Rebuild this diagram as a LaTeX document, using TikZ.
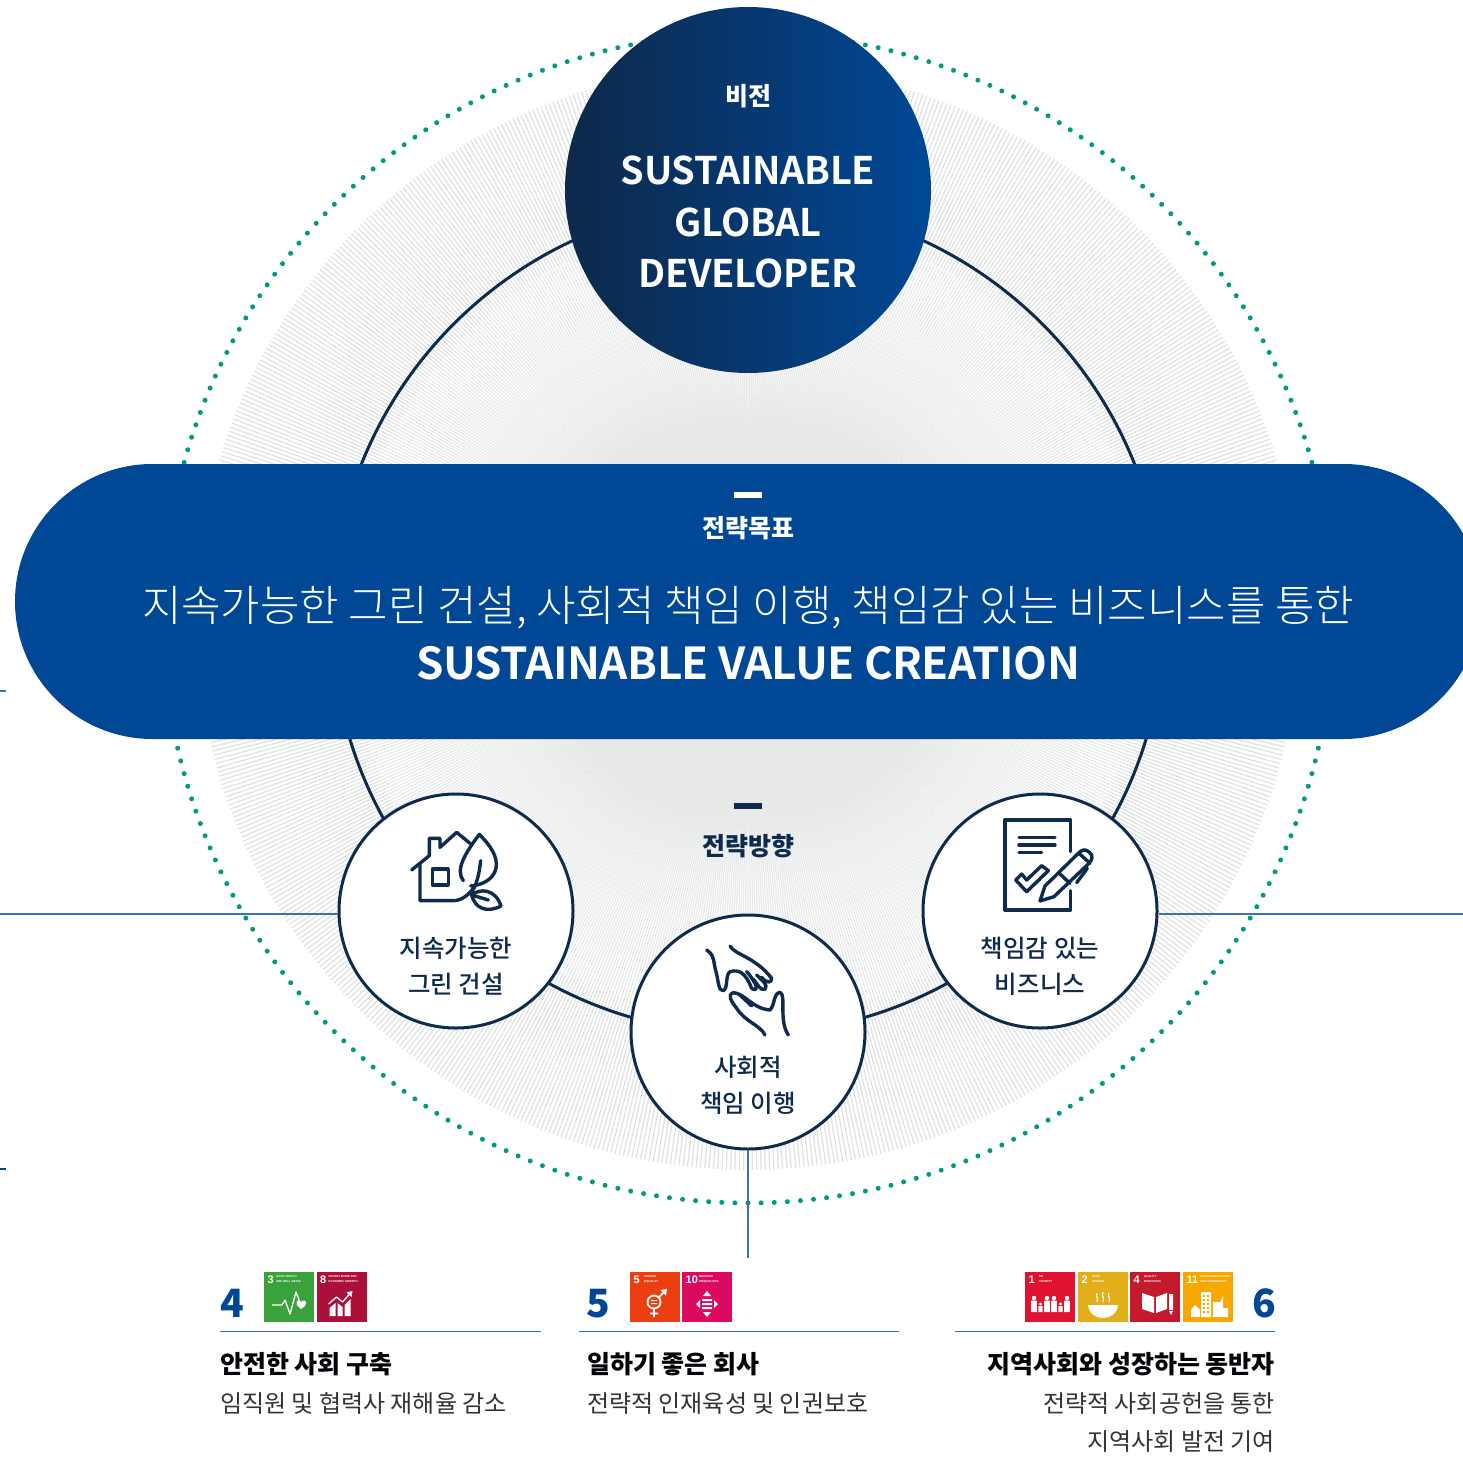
\documentclass[tikz,border=0pt]{standalone}
\usepackage{fontspec}
\setmainfont{Noto Sans CJK KR}
\newfontfamily\krlight{Noto Sans CJK KR Light}
\newfontfamily\krmed{Noto Sans CJK KR Medium}
\newfontfamily\tightb{Noto Sans CJK KR Bold}[LetterSpace=-0.8]
\newfontfamily\tightc{Noto Sans CJK KR Bold}[LetterSpace=-1.2]
\newfontfamily\tinyf{Liberation Sans}
\definecolor{navy}{HTML}{0E2A4D}
\definecolor{pillblue}{HTML}{004896}
\definecolor{rule}{HTML}{4272AE}
\definecolor{dotgreen}{HTML}{009A82}
\definecolor{hatch}{HTML}{E1E2E2}
\definecolor{hatchin}{HTML}{E8E9E9}
\definecolor{sA}{HTML}{3AA23A}
\definecolor{sB}{HTML}{AB1038}
\definecolor{sC}{HTML}{EB3F12}
\definecolor{sD}{HTML}{DB0A60}
\definecolor{sE}{HTML}{E0122F}
\definecolor{sF}{HTML}{E2AE1A}
\definecolor{sG}{HTML}{C5192D}
\definecolor{sH}{HTML}{F8A600}
\newcommand{\fs}[1]{\fontsize{#1}{#1}\selectfont}
\newcommand{\tile}[6]{%
  \node[tilebox,fill=#2] (#6) at (#1,1272) {};
  \node[tilenum] (#6n) at (#1+3.5,1275.5) {#3};
  \node[tiletxt] (#6t) at (#1+#4,1275) {#5};
}
\tikzset{
  bigtxt/.style={font=\tightb\fs{38},text=white,inner sep=0pt},
  small/.style={circle,draw=navy,line width=3pt,fill=white,minimum size=234pt,inner sep=0pt},
  ctext/.style={font=\krmed\fs{24.5},text=navy,inner sep=0pt},
  head/.style={font=\bfseries\fs{25},text=black!90!navy,inner sep=0pt},
  body/.style={font=\fs{24},text=black!80,inner sep=0pt},
  numb/.style={font=\bfseries\fs{39},text=pillblue,inner sep=0pt},
  conn/.style={draw=rule,line width=1.2pt},
  tilebox/.style={anchor=north west,minimum size=50pt,inner sep=0pt,outer sep=0pt},
  tilenum/.style={anchor=north west,font=\tinyf\bfseries\fs{11},text=white,inner sep=0pt},
  tiletxt/.style={anchor=north west,align=left,font=\tinyf\bfseries\fontsize{2.8}{5.6}\selectfont,text=white,inner sep=0pt},
  ico/.style={draw=navy,line width=3.4pt,line cap=round,line join=round},
  tl/.style={draw=white,line width=1.3pt,line join=round},
  tf/.style={fill=white},
}
\begin{document}
\begin{tikzpicture}[x=1pt,y=-1pt]
\useasboundingbox (0,0) rectangle (1463,1458);
\clip (0,0) rectangle (1463,1458);
% hatch disc
\draw[hatch,line width=1.3pt] foreach \a in {0,0.45,...,359.9} {(748+400*cos \a,618+400*sin \a) -- (748+552*cos \a,618+552*sin \a)};
\draw[hatchin,line width=1.3pt] foreach \a in {0,0.45,...,359.9} {(748+100*cos \a,618+100*sin \a) -- (748+400*cos \a,618+400*sin \a)};
% dotted ring
\fill[dotgreen] foreach \a in {0,1.2857,...,359.9} {(748+585*cos \a,618+585*sin \a) circle (2.5pt)};
% inner ring
\node[circle,draw=navy,line width=3pt,minimum size=832pt,inner sep=0pt] (ring) at (748,618) {};
% connectors
\coordinate (le) at (0,914);
\coordinate (re) at (1463,914);
\coordinate (be) at (748,1258);
\node[small] (cl) at (456,911) {};
\node[small] (cr) at (1040,911) {};
\node[small] (cm) at (748,1032) {};
\draw[conn] (le) -- (cl.west |- le);
\draw[conn] (cr.east |- re) -- (re);
\draw[conn] (cm.south) -- (be);
\coordinate (s1a) at (0,691); \coordinate (s1b) at (6,691);
\coordinate (s2a) at (0,1169); \coordinate (s2b) at (6,1169);
\draw[conn] (s1a) -- (s1b);
\draw[conn,draw=pillblue] (s2a) -- (s2b);
% vision circle
\node[circle,minimum size=366pt,inner sep=0pt,left color=navy!95!black,middle color=black!25!pillblue,right color=pillblue] (vis) at (748,190) {};
\node[font=\bfseries\fs{25},text=white,inner sep=0pt] (vt) at (748,96) {비전};
\node[bigtxt] (v1) at (748,170) {SUSTAINABLE};
\node[bigtxt] (v2) at (748,222) {GLOBAL};
\node[bigtxt] (v3) at (748,273) {DEVELOPER};
% pill
\node[rectangle,rounded corners=137.5pt,fill=pillblue,minimum width=1466pt,minimum height=275pt,inner sep=0pt] (pill) at (748,601.5) {};
\node[fill=white,minimum width=28pt,minimum height=6pt,inner sep=0pt] (d1) at (748,494.5) {};
\node[font=\bfseries\fs{25},text=white,inner sep=0pt] (p1) at (748,528) {전략목표};
\node[font=\krlight\fs{42.9},text=white,inner sep=0pt] (p2) at (748,608) {지속가능한 그린 건설, 사회적 책임 이행, 책임감 있는 비즈니스를 통한};
\node[font=\tightc\fs{44},text=white,inner sep=0pt] (p3) at (748,663) {SUSTAINABLE VALUE CREATION};
% direction
\node[fill=navy,minimum width=28pt,minimum height=6pt,inner sep=0pt] (d2) at (748,806) {};
\node[font=\bfseries\fs{25},text=navy,inner sep=0pt] (dt) at (748,846) {전략방향};
% circle labels
\node[ctext] (l1) at (456,948) {지속가능한};
\node[ctext] (l2) at (456,984) {그린 건설};
\node[ctext] (r1) at (1040,948) {책임감 있는};
\node[ctext] (r2) at (1040,984) {비즈니스};
\node[ctext] (m1) at (748,1067) {사회적};
\node[ctext] (m2) at (748,1103) {책임 이행};
% house icon
\begin{scope}[shift={(340,790)},x=0.3333pt,y=-0.3333pt]
\draw[ico] (215,240) -- (268,197) -- (268,145) -- (300,145) -- (300,172) -- (350,127) -- (390,160);
\draw[ico] (240,222) -- (240,332) -- (340,332) .. controls (365,332) and (385,315) .. (400,295);
\draw[ico] (277,237) rectangle (325,285);
\draw[ico] (370,272) .. controls (345,240) and (375,190) .. (418,133) .. controls (450,165) and (475,200) .. (468,235) .. controls (460,270) and (425,285) .. (392,288);
\draw[ico] (422,212) .. controls (418,250) and (410,290) .. (390,312);
\draw[ico] (395,315) .. controls (420,295) and (465,295) .. (483,348) .. controls (440,370) and (405,355) .. (395,315);
\draw[ico] (395,315) -- (445,330);
\end{scope}
% document icon
\begin{scope}[shift={(980,800)},x=0.3333pt,y=-0.3333pt]
\draw[ico] (272,155) -- (272,60) -- (75,60) -- (75,330) -- (272,330) -- (272,272);
\draw[ico] (117,112) -- (225,112) (117,135) -- (225,135) (117,158) -- (185,158);
\draw[ico] (107,240) -- (140,275) -- (205,212) -- (185,197) -- (140,240) -- (125,222) -- cycle;
\draw[ico] (180,303) -- (195,258) -- (300,155) .. controls (312,145) and (325,150) .. (335,165) .. controls (338,178) and (332,185) .. (325,192) -- (222,290) -- cycle;
\draw[ico] (240,222) -- (270,250) (297,160) -- (330,190);
\draw[ico] (322,205) -- (290,248);
\end{scope}
% hands icon
\begin{scope}[shift={(680,930)},x=0.3333pt,y=-0.3333pt]
\draw[ico] (80,60) .. controls (105,75) and (100,100) .. (108,125) .. controls (115,150) and (115,185) .. (130,182) .. controls (145,175) and (135,135) .. (150,125) .. controls (175,118) and (195,125) .. (215,175) .. controls (225,185) and (235,175) .. (225,160) .. controls (210,135) and (205,130) .. (200,125);
\draw[ico] (150,48) .. controls (165,75) and (225,80) .. (275,145) .. controls (275,160) and (260,160) .. (245,142) (230,135) .. controls (250,155) and (265,165) .. (255,178) .. controls (240,182) and (235,165) .. (220,148);
\draw[ico] (255,315) .. controls (240,285) and (195,275) .. (170,235) .. controls (155,215) and (140,195) .. (160,188) .. controls (195,190) and (215,235) .. (270,240) .. controls (285,225) and (280,190) .. (300,187) .. controls (320,195) and (295,270) .. (325,315);
\draw[ico] (180,195) -- (215,228);
\end{scope}
% bottom columns
\node[numb,anchor=base west] (n4) at (220,1317) {4};
\node[numb,anchor=base west] (n5) at (586.5,1317) {5};
\node[numb,anchor=base east] (n6) at (1276,1317) {6};
\coordinate (a1) at (220,1331.5); \coordinate (a2) at (541,1331.5);
\coordinate (b1) at (579,1331.5); \coordinate (b2) at (899,1331.5);
\coordinate (c1) at (955,1331.5); \coordinate (c2) at (1275,1331.5);
\draw[conn] (a1) -- (a2);
\draw[conn] (b1) -- (b2);
\draw[conn] (c1) -- (c2);
\node[head,anchor=west] (h4) at (220,1364) {안전한 사회 구축};
\node[body,anchor=west] (b4) at (220,1403) {임직원 및 협력사 재해율 감소};
\node[head,anchor=west] (h5) at (587,1364) {일하기 좋은 회사};
\node[body,anchor=west] (b5) at (587,1403) {전략적 인재육성 및 인권보호};
\node[head,anchor=east] (h6) at (1275,1364) {지역사회와 성장하는 동반자};
\node[body,anchor=east] (b6) at (1275,1403) {전략적 사회공헌을 통한};
\node[body,anchor=east] (b7) at (1275,1442) {지역사회 발전 기여};
% SDG tiles
\tile{264}{sA}{3}{12}{GOOD HEALTH\\AND WELL-BEING}{t3}
\tile{316.5}{sB}{8}{12}{DECENT WORK AND\\ECONOMIC GROWTH}{t8}
\tile{630}{sC}{5}{14}{GENDER\\EQUALITY}{t5}
\tile{682}{sD}{10}{17}{REDUCED\\INEQUALITIES}{t10}
\tile{1025}{sE}{1}{14}{NO\\POVERTY}{t1}
\tile{1078}{sF}{2}{14}{ZERO\\HUNGER}{t2}
\tile{1130}{sG}{4}{14}{QUALITY\\EDUCATION}{t4}
\tile{1183}{sH}{11}{17}{SUSTAINABLE CITIES\\AND COMMUNITIES}{t11}
% 3 heartbeat
\begin{scope}[shift={(264,1272)}]
\draw[tl] (8,33) -- (18,33) -- (21,28) -- (26,42) -- (32,20) -- (37,33);
\fill[tf] (37,30) .. controls (39,27) and (44,28) .. (41,34) -- (37,37) -- (33,33) .. controls (31,28) and (35,27) .. (37,30);
\end{scope}
% 8 chart
\begin{scope}[shift={(316.5,1272)}]
\fill[tf] (13,44) -- (13,36) -- (19,31) -- (19,44) -- cycle (21,44) -- (21,31) -- (26,35) -- (26,44) -- cycle (28,44) -- (28,33) -- (34,27) -- (34,44) -- cycle;
\draw[tl] (12,32) -- (20,25) -- (26,30) -- (34,21);
\fill[tf] (36,19) -- (30,20.5) -- (35,25) -- cycle;
\end{scope}
% 5 gender
\begin{scope}[shift={(630,1272)}]
\draw[draw=white,line width=1.8pt] (24,30) circle (6.5) (24,36.5) -- (24,45) (20,41.5) -- (28,41.5) (28.5,25.5) -- (35,19);
\fill[tf] (37,17) -- (30.5,18) -- (36,23.5) -- cycle (21,28) rectangle (27,29.2) (21,31) rectangle (27,32.2);
\end{scope}
% 10 inequality
\begin{scope}[shift={(682,1272)}]
\fill[tf] (20,27) rectangle (30,29) (20,31) rectangle (30,33) (20,35) rectangle (30,37);
\fill[tf] (25,19) -- (29,24) -- (21,24) -- cycle (25,45) -- (29,40) -- (21,40) -- cycle (14,32) -- (18,28) -- (18,36) -- cycle (36,32) -- (32,28) -- (32,36) -- cycle;
\end{scope}
% 1 poverty
\begin{scope}[shift={(1025,1272)}]
\fill[tf] foreach \p/\r/\t in {9/2.2/26,15.5/1.6/32,22/2.2/26,29/2.2/26,35.5/1.6/32,42/2.2/26} {
  (\p,\t) circle (\r) (\p-\r-0.6,\t+\r+0.5) rectangle (\p+\r+0.6,40)
};
\end{scope}
% 2 hunger
\begin{scope}[shift={(1078,1272)}]
\fill[tf] (10,33) -- (40,33) .. controls (39,42) and (32,46) .. (25,46) .. controls (18,46) and (11,42) .. (10,33) -- cycle;
\draw[draw=white,line width=1.2pt] (19,21) .. controls (17,24) and (21,26) .. (19,30) (25,20) .. controls (23,24) and (27,26) .. (25,30) (31,21) .. controls (29,24) and (33,26) .. (31,30);
\end{scope}
% 4 education
\begin{scope}[shift={(1130,1272)}]
\fill[tf] (12,21) -- (24,25) -- (24,41) -- (12,37) -- cycle (26,25) -- (37,21) -- (37,37) -- (26,41) -- cycle (39,22) rectangle (43,38);
\fill[tf] (39,39) -- (43,39) -- (41,43) -- cycle;
\end{scope}
% 11 cities
\begin{scope}[shift={(1183,1272)}]
\fill[tf] (18,20) rectangle (28,45) (30,30) rectangle (36,45) (36,32) -- (40,24) -- (40,45) -- (36,45) -- cycle (40,36) rectangle (45,45);
\fill[tf] (8,38) -- (12,33) -- (17,38) -- (17,45) -- (8,45) -- cycle;
\fill[sH] foreach \y in {23,27,31,35,39} {(20,\y) rectangle (22,\y+2) (24,\y) rectangle (26,\y+2)};
\end{scope}
\end{tikzpicture}
\end{document}
